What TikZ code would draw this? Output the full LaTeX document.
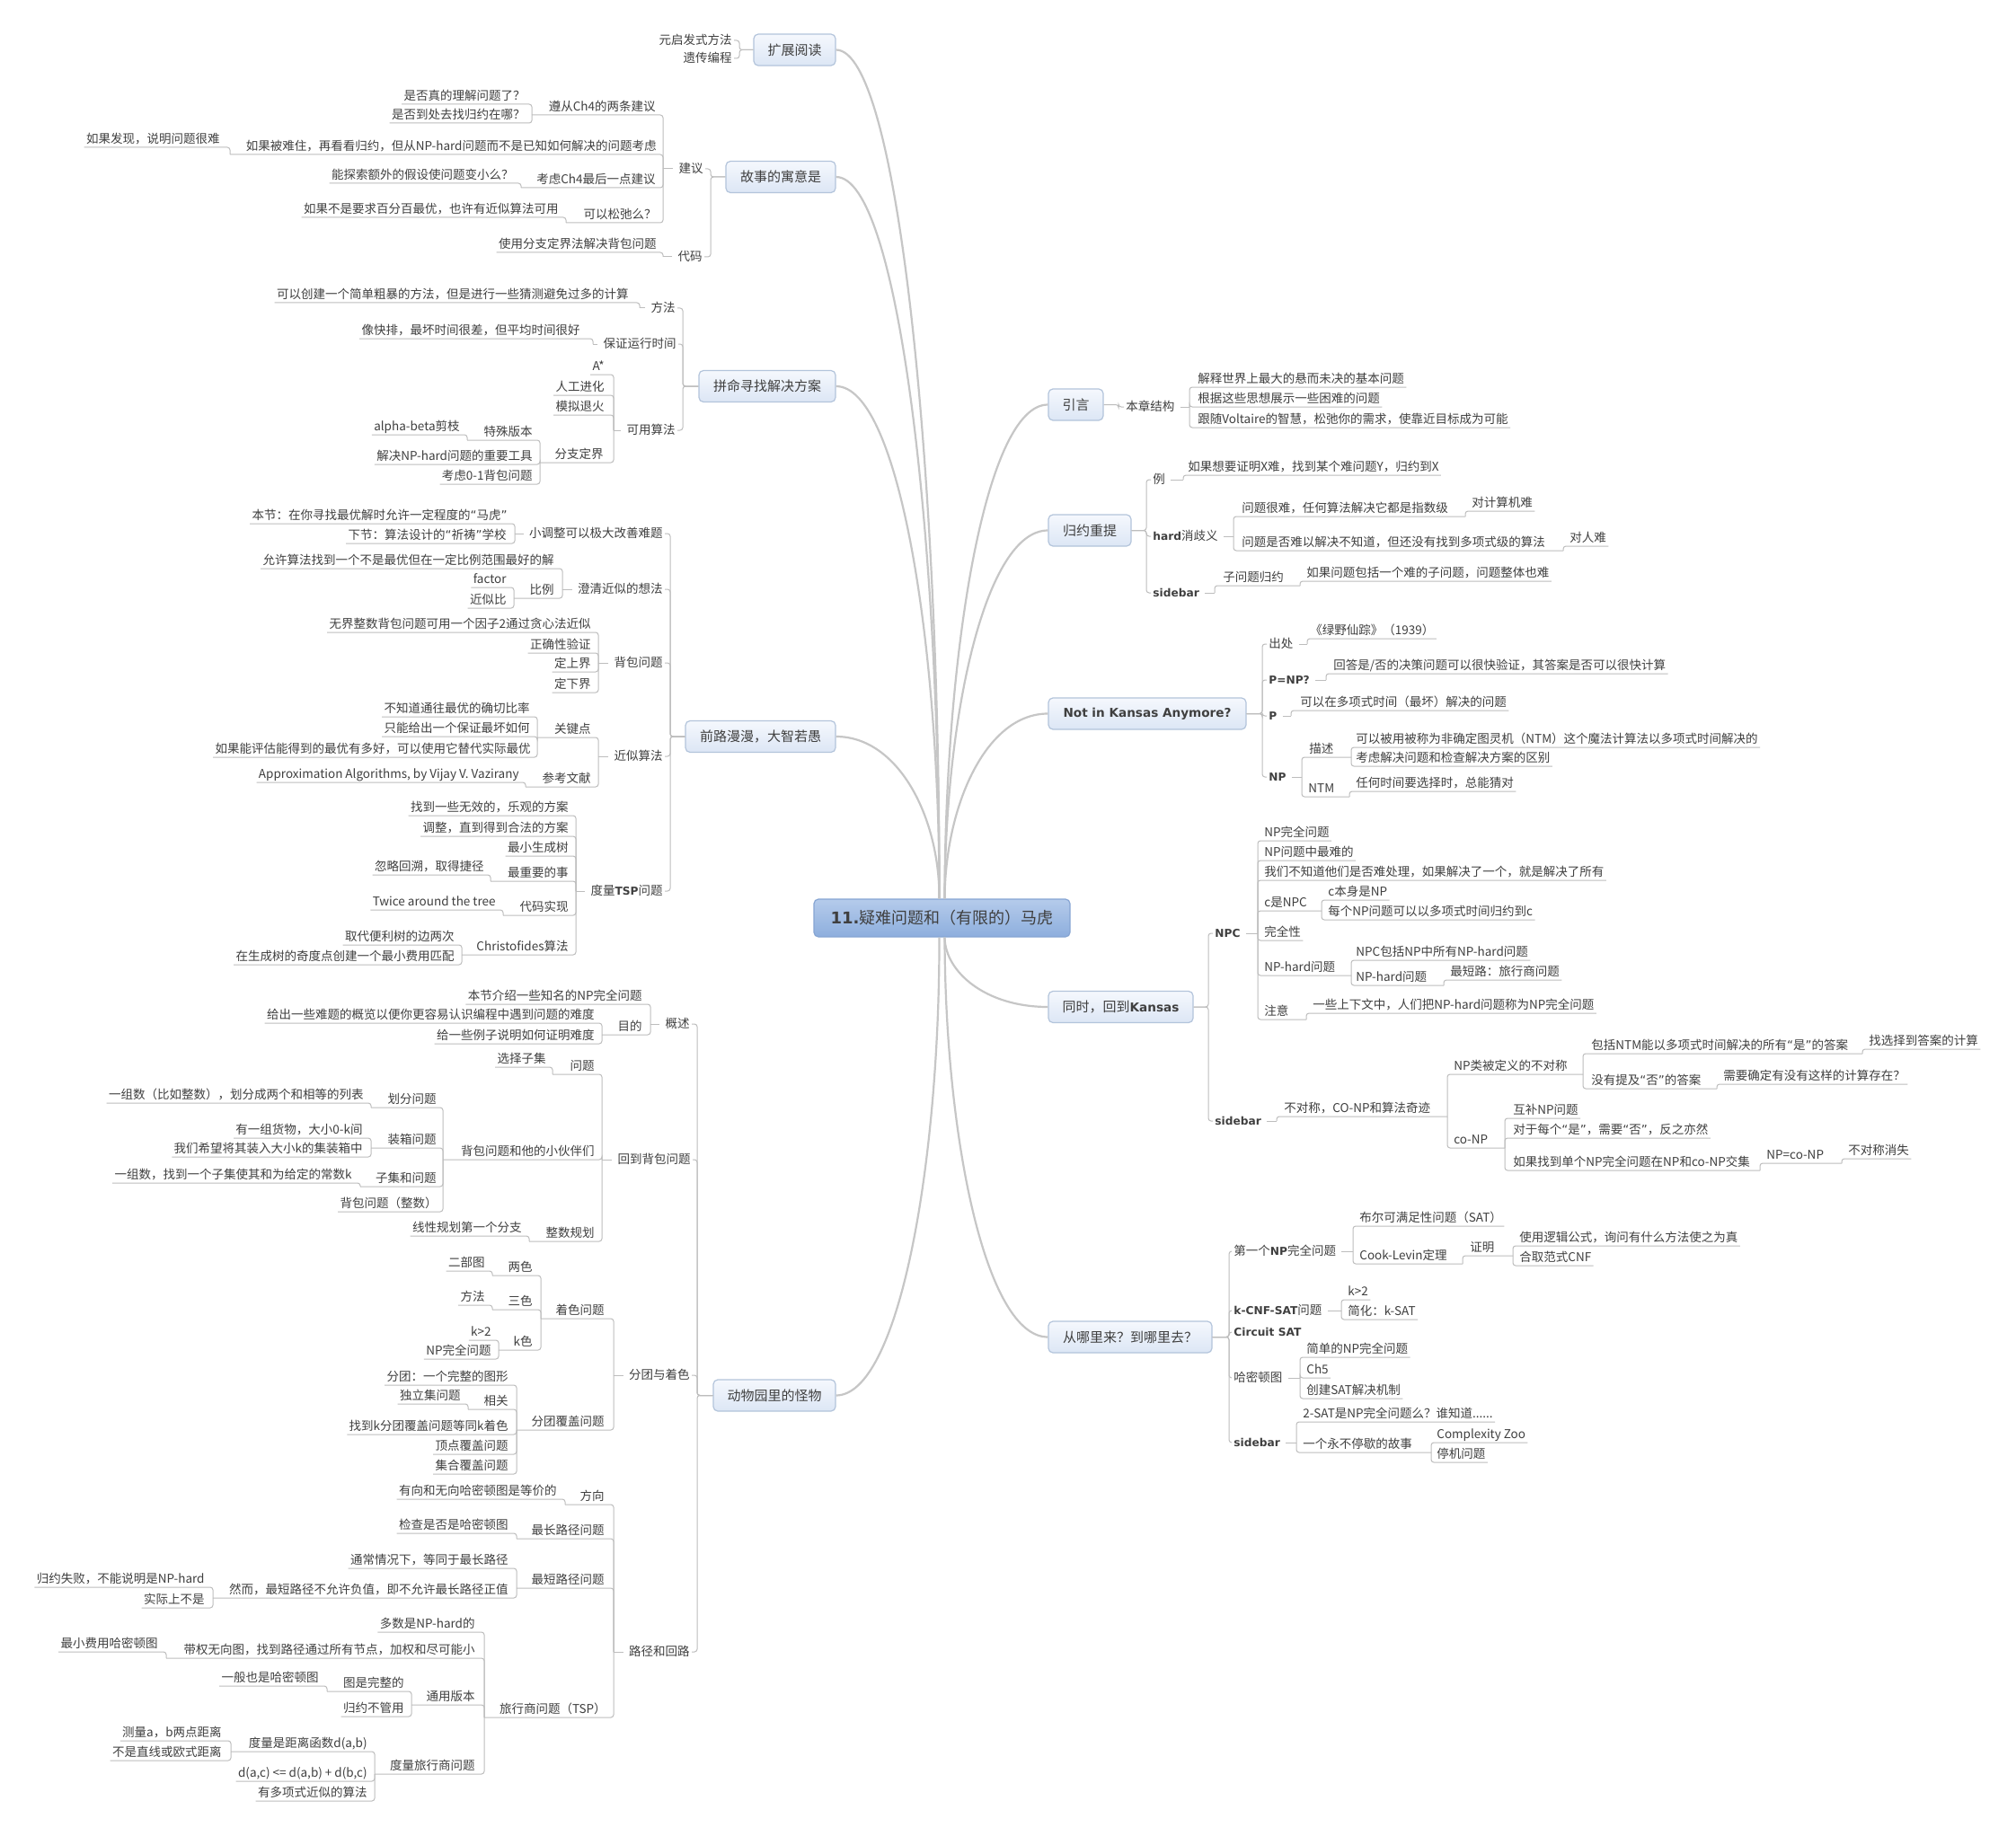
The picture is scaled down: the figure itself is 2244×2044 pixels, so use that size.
\documentclass[tikz,border=0pt]{standalone}
\usepackage{fontspec}
\setmainfont{Noto Sans CJK SC}
\newfontfamily\bl{DejaVu Sans}
\definecolor{txt}{HTML}{3F3F3F}
\definecolor{lc}{HTML}{BDBDBD}
\definecolor{brc}{HTML}{C6C6C6}
\definecolor{bxd}{HTML}{B3C4DB}
\definecolor{bxt}{HTML}{F5F8FD}
\definecolor{bxb}{HTML}{DCE6F5}
\definecolor{rtd}{HTML}{86A5D3}
\definecolor{rtt}{HTML}{B5CBEB}
\definecolor{rtb}{HTML}{8DAEDD}
\newcommand\sfz{\fontsize{6.75pt}{8pt}\selectfont}
\newcommand\mfz{\fontsize{7.5pt}{9pt}\selectfont}
\newcommand\Bo[1]{{\bl\bfseries\fontsize{6.1pt}{7pt}\selectfont #1}}
\newcommand\Bm[1]{{\bl\bfseries\fontsize{6.8pt}{8pt}\selectfont #1}}
\newcommand\qo{{\bl “}}
\newcommand\qc{{\bl ”}}
\newcommand\LN[4]{\node[tx,anchor=south east] (#1) at ({#2+2},{#3}) {#4};}
\newcommand\RN[4]{\node[tx,anchor=south west] (#1) at ({#2-2},{#3}) {#4};}
\newcommand\LT[4]{\node[tx,anchor=east] (#1) at ({#2+2},{#3}) {#4};}
\newcommand\RT[4]{\node[tx,anchor=west] (#1) at ({#2-2},{#3}) {#4};}
\newcommand\BR[3]{\coordinate (#1) at (#2,#3);}
\newcommand\eL[2]{\draw[ln] (#1) |- (#2.south west);}
\newcommand\eR[2]{\draw[ln] (#1) |- (#2.south east);}
\newcommand\eB[2]{\draw[ln] (#1) |- (#2);}
\newcommand\sL[2]{\draw[ln] ([xshift=-2pt]#1.west) -- (#2);}
\newcommand\sR[2]{\draw[ln] ([xshift=2pt]#1.east) -- (#2);}
\newcommand\mL[3]{\draw[ln] (#1.west) -- (#2) |- (#3.east);}
\newcommand\mR[3]{\draw[ln] (#1.east) -- (#2) |- (#3.west);}
\tikzset{
  tx/.style={font=\sfz, text=txt, inner xsep=1pt, inner ysep=0.8pt, text height=5.6pt, text depth=1.2pt},
  ln/.style={draw=lc, line width=0.5pt, rounded corners=1.5pt},
  branch/.style={draw=brc, line width=1.1pt},
  mainbox/.style={draw=bxd, line width=0.6pt, rounded corners=2.5pt, top color=bxt, bottom color=bxb, font=\mfz, text=txt, inner sep=0pt, minimum height=17.5pt},
  rootbox/.style={draw=rtd, line width=0.6pt, rounded corners=2.5pt, top color=rtt, bottom color=rtb, font=\fontsize{9pt}{11pt}\selectfont, text=txt, inner sep=0pt, minimum height=21pt, minimum width=142.5pt}
}
\begin{document}
\begin{tikzpicture}[x=0.5pt,y=-0.5pt]
\fill[white] (0,0) rectangle (2244,2044);
\useasboundingbox (0,0) rectangle (2244,2044);

% ---------- root and main topics
\node[rootbox] (root) at (1048.5,1022) {{\bl\bfseries 11.}疑难问题和（有限的）马虎};
\node[mainbox, minimum width=45.5pt] (m1) at (884.5,55.5) {扩展阅读};
\node[mainbox, minimum width=61pt] (m2) at (869,197) {故事的寓意是};
\node[mainbox, minimum width=76pt] (m3) at (854,430) {拼命寻找解决方案};
\node[mainbox, minimum width=83.5pt] (m4) at (846.5,820) {前路漫漫，大智若愚};
\node[mainbox, minimum width=68pt] (m5) at (862,1553.5) {动物园里的怪物};
\node[mainbox, minimum width=30.5pt] (r1) at (1197.5,450.5) {引言};
\node[mainbox, minimum width=46pt] (r2) at (1213,590.5) {归约重提};
\node[mainbox, minimum width=110pt] (r3) at (1277,794.5) {\Bm{Not in Kansas Anymore?}};
\node[mainbox, minimum width=80.5pt] (r4) at (1247.5,1121) {同时，回到\Bm{Kansas}};
\node[mainbox, minimum width=91pt] (r5) at (1258,1488.5) {从哪里来？到哪里去？};

% ---------- main branches
\draw[branch] ([xshift=-1.5pt]root.north) .. controls (1046,528) and (1000,55.5) .. (m1.east);
\draw[branch] ([xshift=-1.5pt]root.north) .. controls (1046,599) and (1000,197) .. (m2.east);
\draw[branch] ([xshift=-1.5pt]root.north) .. controls (1046,715) and (1000,430) .. (m3.east);
\draw[branch] ([xshift=-1.5pt]root.north) .. controls (1046,910) and (1000,820) .. (m4.east);
\draw[branch] ([xshift=-1.5pt]root.south) .. controls (1046,1298) and (1000,1553.5) .. (m5.east);
\draw[branch] ([xshift=1.5pt]root.north) .. controls (1052,726) and (1097,450.5) .. (r1.west);
\draw[branch] ([xshift=1.5pt]root.north) .. controls (1052,796) and (1097,590.5) .. (r2.west);
\draw[branch] ([xshift=1.5pt]root.north) .. controls (1052,898) and (1097,794.5) .. (r3.west);
\draw[branch] ([xshift=1.5pt]root.south) .. controls (1052,1082) and (1097,1121) .. (r4.west);
\draw[branch] ([xshift=1.5pt]root.south) .. controls (1052,1266) and (1097,1488.5) .. (r5.west);

% ================= m1 扩展阅读
\LT{z1}{815}{45}{元启发式方法}
\LT{z2}{815}{65}{遗传编程}
\BR{m1b}{823}{55.5}
\mL{m1}{m1b}{z1} \mL{m1}{m1b}{z2}

% ================= m2 故事的寓意是
\LT{a1}{783}{188}{建议}
\LT{a2}{782}{286}{代码}
\BR{m2b}{791}{197}
\mL{m2}{m2b}{a1} \mL{m2}{m2b}{a2}
\BR{a1b}{738}{188} \sL{a1}{a1b}
\BR{a2b}{738}{286} \sL{a2}{a2b}
\LN{a11}{730}{128}{遵从Ch4的两条建议} \BR{a11b}{592}{128}
\LN{a111}{585}{116}{是否真的理解问题了？}
\LN{a112}{585}{137}{是否到处去找归约在哪？}
\LN{a12}{731}{172}{如果被难住，再看看归约，但从NP-hard问题而不是已知如何解决的问题考虑} \BR{a12b}{256}{172}
\LN{a121}{245}{164}{如果发现，说明问题很难}
\LN{a13}{730}{209}{考虑Ch4最后一点建议} \BR{a13b}{580}{209}
\LN{a131}{572}{204}{能探索额外的假设使问题变小么？}
\LN{a14}{731}{248}{可以松弛么？} \BR{a14b}{630}{248}
\LN{a141}{622}{242}{如果不是要求百分百最优，也许有近似算法可用}
\LN{a21}{731}{281}{使用分支定界法解决背包问题}
\eB{a1b}{a11b} \eL{a11b}{a111} \eL{a11b}{a112}
\eB{a1b}{a12b} \eL{a12b}{a121}
\eB{a1b}{a13b} \eL{a13b}{a131}
\eB{a1b}{a14b} \eL{a14b}{a141}
\eL{a2b}{a21}

% ================= m3 拼命寻找解决方案
\LT{b1}{752}{343}{方法}
\LT{b2}{753}{383}{保证运行时间}
\LT{b3}{752}{479}{可用算法}
\BR{m3b}{760}{430}
\mL{m3}{m3b}{b1} \mL{m3}{m3b}{b2} \mL{m3}{m3b}{b3}
\BR{b1b}{712}{343} \sL{b1}{b1b}
\BR{b2b}{660}{383} \sL{b2}{b2b}
\BR{b3b}{683}{479} \sL{b3}{b3b}
\LN{b11}{700}{337}{可以创建一个简单粗暴的方法，但是进行一些猜测避免过多的计算}
\LN{b21}{646}{377}{像快排，最坏时间很差，但平均时间很好}
\LN{b31}{673}{417}{A*}
\LN{b32}{673}{440}{人工进化}
\LN{b33}{673}{462}{模拟退火}
\LN{b34}{672}{515}{分支定界} \BR{b34b}{601}{515}
\LN{b341}{593}{490}{特殊版本} \BR{b341b}{520}{490}
\LN{b3411}{512}{484}{alpha-beta剪枝}
\LN{b342}{593}{517}{解决NP-hard问题的重要工具}
\LN{b343}{593}{539}{考虑0-1背包问题}
\eL{b1b}{b11} \eL{b2b}{b21}
\eL{b3b}{b31} \eL{b3b}{b32} \eL{b3b}{b33} \eB{b3b}{b34b}
\eB{b34b}{b341b} \eL{b341b}{b3411} \eL{b34b}{b342} \eL{b34b}{b343}

% ================= m4 前路漫漫，大智若愚
\LT{c1}{738}{594}{小调整可以极大改善难题}
\LT{c2}{738}{656}{澄清近似的想法}
\LT{c3}{738}{738}{背包问题}
\LT{c4}{738}{842}{近似算法}
\LT{c5}{738}{992}{度量\Bo{TSP}问题}
\BR{m4b}{746}{820}
\mL{m4}{m4b}{c1} \mL{m4}{m4b}{c2} \mL{m4}{m4b}{c3} \mL{m4}{m4b}{c4} \mL{m4}{m4b}{c5}
\BR{c1b}{573}{594} \sL{c1}{c1b}
\BR{c2b}{626}{656} \sL{c2}{c2b}
\BR{c3b}{666}{738} \sL{c3}{c3b}
\BR{c4b}{666}{842} \sL{c4}{c4b}
\BR{c5b}{641}{992} \sL{c5}{c5b}
\LN{c11}{565}{583}{本节：在你寻找最优解时允许一定程度的\qo{}马虎\qc{}}
\LN{c12}{564}{605}{下节：算法设计的\qo{}祈祷\qc{}学校}
\LN{c21}{617}{633}{允许算法找到一个不是最优但在一定比例范围最好的解}
\LN{c22}{617}{666}{比例} \BR{c22b}{572}{666}
\LN{c221}{564}{654}{factor}
\LN{c222}{564}{677}{近似比}
\LN{c31}{658}{704}{无界整数背包问题可用一个因子2通过贪心法近似}
\LN{c32}{658}{727}{正确性验证}
\LN{c33}{658}{748}{定上界}
\LN{c34}{658}{771}{定下界}
\LN{c41}{658}{821}{关键点} \BR{c41b}{598}{821}
\LN{c411}{590}{798}{不知道通往最优的确切比率}
\LN{c412}{590}{820}{只能给出一个保证最坏如何}
\LN{c413}{591}{843}{如果能评估能得到的最优有多好，可以使用它替代实际最优}
\LN{c42}{658}{876}{参考文献} \BR{c42b}{585}{876}
\LN{c421}{578}{871}{Approximation Algorithms, by Vijay V. Vazirany}
\LN{c51}{633}{908}{找到一些无效的，乐观的方案}
\LN{c52}{633}{931}{调整，直到得到合法的方案}
\LN{c53}{633}{953}{最小生成树}
\LN{c54}{633}{981}{最重要的事} \BR{c54b}{546}{981}
\LN{c541}{539}{974}{忽略回溯，取得捷径}
\LN{c55}{633}{1019}{代码实现} \BR{c55b}{560}{1019}
\LN{c551}{552}{1013}{Twice around the tree}
\LN{c56}{633}{1063}{Christofides算法} \BR{c56b}{514}{1063}
\LN{c561}{506}{1052}{取代便利树的边两次}
\LN{c562}{506}{1074}{在生成树的奇度点创建一个最小费用匹配}
\eL{c1b}{c11} \eL{c1b}{c12}
\eL{c2b}{c21} \eB{c2b}{c22b} \eL{c22b}{c221} \eL{c22b}{c222}
\eL{c3b}{c31} \eL{c3b}{c32} \eL{c3b}{c33} \eL{c3b}{c34}
\eB{c4b}{c41b} \eL{c41b}{c411} \eL{c41b}{c412} \eL{c41b}{c413}
\eB{c4b}{c42b} \eL{c42b}{c421}
\eL{c5b}{c51} \eL{c5b}{c52} \eL{c5b}{c53}
\eB{c5b}{c54b} \eL{c54b}{c541}
\eB{c5b}{c55b} \eL{c55b}{c551}
\eB{c5b}{c56b} \eL{c56b}{c561} \eL{c56b}{c562}

% ================= m5 动物园里的怪物
\LT{d1}{768}{1140}{概述}
\LT{d2}{769}{1291}{回到背包问题}
\LT{d3}{768}{1531}{分团与着色}
\LT{d4}{768}{1839}{路径和回路}
\BR{m5b}{776}{1553.5}
\mL{m5}{m5b}{d1} \mL{m5}{m5b}{d2} \mL{m5}{m5b}{d3} \mL{m5}{m5b}{d4}
\BR{d1b}{724}{1140} \sL{d1}{d1b}
\BR{d2b}{670}{1291} \sL{d2}{d2b}
\BR{d3b}{683}{1531} \sL{d3}{d3b}
\BR{d4b}{683}{1839} \sL{d4}{d4b}
\LN{d11}{715}{1118}{本节介绍一些知名的NP完全问题}
\LN{d12}{715}{1152}{目的} \BR{d12b}{670}{1152}
\LN{d121}{662}{1139}{给出一些难题的概览以便你更容易认识编程中遇到问题的难度}
\LN{d122}{662}{1162}{给一些例子说明如何证明难度}
\LN{d21}{662}{1196}{问题} \BR{d21b}{615}{1196}
\LN{d211}{608}{1188}{选择子集}
\LN{d22}{662}{1291}{背包问题和他的小伙伴们} \BR{d22b}{493}{1291}
\LN{d221}{486}{1233}{划分问题} \BR{d221b}{413}{1233}
\LN{d2211}{405}{1228}{一组数（比如整数），划分成两个和相等的列表}
\LN{d222}{486}{1278}{装箱问题} \BR{d222b}{413}{1278}
\LN{d2221}{404}{1267}{有一组货物，大小0-k间}
\LN{d2222}{404}{1288}{我们希望将其装入大小k的集装箱中}
\LN{d223}{486}{1321}{子集和问题} \BR{d223b}{401}{1321}
\LN{d2231}{392}{1317}{一组数，找到一个子集使其和为给定的常数k}
\LN{d224}{487}{1349}{背包问题（整数）}
\LN{d23}{662}{1382}{整数规划} \BR{d23b}{589}{1382}
\LN{d231}{581}{1376}{线性规划第一个分支}
\LN{d31}{673}{1468}{着色问题} \BR{d31b}{602}{1468}
\LN{d311}{593}{1420}{两色} \BR{d311b}{548}{1420}
\LN{d3111}{540}{1415}{二部图}
\LN{d312}{593}{1458}{三色} \BR{d312b}{548}{1458}
\LN{d3121}{540}{1453}{方法}
\LN{d313}{593}{1503}{k色} \BR{d313b}{555}{1503}
\LN{d3131}{547}{1492}{k>2}
\LN{d3132}{547}{1513}{NP完全问题}
\LN{d32}{673}{1592}{分团覆盖问题} \BR{d32b}{575}{1592}
\LN{d321}{566}{1542}{分团：一个完整的图形}
\LN{d322}{566}{1569}{相关} \BR{d322b}{521}{1569}
\LN{d3221}{513}{1563}{独立集问题}
\LN{d323}{566}{1597}{找到k分团覆盖问题等同k着色}
\LN{d324}{566}{1619}{顶点覆盖问题}
\LN{d325}{566}{1641}{集合覆盖问题}
\LN{d41}{673}{1675}{方向} \BR{d41b}{629}{1675}
\LN{d411}{620}{1669}{有向和无向哈密顿图是等价的}
\LN{d42}{673}{1713}{最长路径问题} \BR{d42b}{575}{1713}
\LN{d421}{566}{1707}{检查是否是哈密顿图}
\LN{d43}{673}{1768}{最短路径问题} \BR{d43b}{575}{1768}
\LN{d431}{566}{1746}{通常情况下，等同于最长路径}
\LN{d432}{566}{1779}{然而，最短路径不允许负值，即不允许最长路径正值} \BR{d432b}{237}{1779}
\LN{d4321}{228}{1767}{归约失败，不能说明是NP-hard}
\LN{d4322}{228}{1790}{实际上不是}
\LN{d44}{675}{1912}{旅行商问题（TSP）} \BR{d44b}{539}{1912}
\LN{d441}{529}{1817}{多数是NP-hard的}
\LN{d442}{529}{1846}{带权无向图，找到路径通过所有节点，加权和尽可能小} \BR{d442b}{185}{1846}
\LN{d4421}{176}{1839}{最小费用哈密顿图}
\LN{d443}{529}{1898}{通用版本} \BR{d443b}{458}{1898}
\LN{d4431}{450}{1883}{图是完整的} \BR{d4431b}{364}{1883}
\LN{d44311}{355}{1877}{一般也是哈密顿图}
\LN{d4432}{450}{1911}{归约不管用}
\LN{d444}{529}{1975}{度量旅行商问题} \BR{d444b}{417}{1975}
\LN{d4441}{409}{1950}{度量是距离函数d(a,b)} \BR{d4441b}{257}{1950}
\LN{d44411}{247}{1938}{测量a，b两点距离}
\LN{d44412}{247}{1960}{不是直线或欧式距离}
\LN{d4442}{409}{1983}{d(a,c) <= d(a,b) + d(b,c)}
\LN{d4443}{409}{2005}{有多项式近似的算法}
\eL{d1b}{d11} \eB{d1b}{d12b} \eL{d12b}{d121} \eL{d12b}{d122}
\eB{d2b}{d21b} \eL{d21b}{d211}
\eB{d2b}{d22b}
\eB{d22b}{d221b} \eL{d221b}{d2211}
\eB{d22b}{d222b} \eL{d222b}{d2221} \eL{d222b}{d2222}
\eB{d22b}{d223b} \eL{d223b}{d2231}
\eL{d22b}{d224}
\eB{d2b}{d23b} \eL{d23b}{d231}
\eB{d3b}{d31b}
\eB{d31b}{d311b} \eL{d311b}{d3111}
\eB{d31b}{d312b} \eL{d312b}{d3121}
\eB{d31b}{d313b} \eL{d313b}{d3131} \eL{d313b}{d3132}
\eB{d3b}{d32b}
\eL{d32b}{d321} \eB{d32b}{d322b} \eL{d322b}{d3221}
\eL{d32b}{d323} \eL{d32b}{d324} \eL{d32b}{d325}
\eB{d4b}{d41b} \eL{d41b}{d411}
\eB{d4b}{d42b} \eL{d42b}{d421}
\eB{d4b}{d43b} \eL{d43b}{d431} \eB{d43b}{d432b} \eL{d432b}{d4321} \eL{d432b}{d4322}
\eB{d4b}{d44b} \eL{d44b}{d441}
\eB{d44b}{d442b} \eL{d442b}{d4421}
\eB{d44b}{d443b} \eB{d443b}{d4431b} \eL{d4431b}{d44311} \eL{d443b}{d4432}
\eB{d44b}{d444b} \eB{d444b}{d4441b} \eL{d4441b}{d44411} \eL{d4441b}{d44412}
\eL{d444b}{d4442} \eL{d444b}{d4443}

% ================= r1 引言
\RT{e1}{1253}{453}{本章结构}
\BR{r1b}{1245}{450.5}
\mR{r1}{r1b}{e1}
\BR{e1b}{1324}{453} \sR{e1}{e1b}
\RN{e11}{1333}{431}{解释世界上最大的悬而未决的基本问题}
\RN{e12}{1333}{453}{根据这些思想展示一些困难的问题}
\RN{e13}{1333}{476}{跟随Voltaire的智慧，松弛你的需求，使靠近目标成为可能}
\eR{e1b}{e11} \eR{e1b}{e12} \eR{e1b}{e13}

% ================= r2 归约重提
\RT{f1}{1283}{534}{例}
\RT{f2}{1283}{597}{\Bo{hard}消歧义}
\RT{f3}{1283}{660}{\Bo{sidebar}}
\BR{r2b}{1276}{590.5}
\mR{r2}{r2b}{f1} \mR{r2}{r2b}{f2} \mR{r2}{r2b}{f3}
\BR{f1b}{1317}{534} \sR{f1}{f1b}
\BR{f2b}{1373}{597} \sR{f2}{f2b}
\BR{f3b}{1352}{660} \sR{f3}{f3b}
\RN{f11}{1322}{529}{如果想要证明X难，找到某个难问题Y，归约到X}
\RN{f21}{1382}{575}{问题很难，任何算法解决它都是指数级} \BR{f21b}{1631}{575}
\RN{f211}{1638}{569}{对计算机难}
\RN{f22}{1382}{613}{问题是否难以解决不知道，但还没有找到多项式级的算法} \BR{f22b}{1740}{613}
\RN{f221}{1747}{608}{对人难}
\RN{f31}{1361}{652}{子问题归约} \BR{f31b}{1447}{652}
\RN{f311}{1454}{647}{如果问题包括一个难的子问题，问题整体也难}
\eR{f1b}{f11}
\eB{f2b}{f21b} \eR{f21b}{f211}
\eB{f2b}{f22b} \eR{f22b}{f221}
\eB{f3b}{f31b} \eR{f31b}{f311}

% ================= r3 Not in Kansas Anymore?
\RT{g1}{1412}{717}{出处}
\RT{g2}{1412}{757}{\Bo{P=NP?}}
\RT{g3}{1412}{797}{\Bo{P}}
\RT{g4}{1412}{865}{\Bo{NP}}
\BR{r3b}{1405}{794.5}
\mR{r3}{r3b}{g1} \mR{r3}{r3b}{g2} \mR{r3}{r3b}{g3} \mR{r3}{r3b}{g4}
\BR{g1b}{1455}{717} \sR{g1}{g1b}
\BR{g2b}{1476}{757} \sR{g2}{g2b}
\BR{g3b}{1437}{797} \sR{g3}{g3b}
\BR{g4b}{1449}{865} \sR{g4}{g4b}
\RN{g11}{1458}{711}{《绿野仙踪》（1939）}
\RN{g21}{1484}{750}{回答是/否的决策问题可以很快验证，其答案是否可以很快计算}
\RN{g31}{1447}{791}{可以在多项式时间（最坏）解决的问题}
\RN{g41}{1457}{843}{描述} \BR{g41b}{1504}{843}
\RN{g411}{1509}{832}{可以被用被称为非确定图灵机（NTM）这个魔法计算法以多项式时间解决的}
\RN{g412}{1509}{853}{考虑解决问题和检查解决方案的区别}
\RN{g42}{1456}{887}{NTM} \BR{g42b}{1502}{887}
\RN{g421}{1509}{881}{任何时间要选择时，总能猜对}
\eR{g1b}{g11} \eR{g2b}{g21} \eR{g3b}{g31}
\eB{g4b}{g41b} \eR{g41b}{g411} \eR{g41b}{g412}
\eB{g4b}{g42b} \eR{g42b}{g421}

% ================= r4 同时，回到Kansas
\RT{h1}{1352}{1039}{\Bo{NPC}}
\RT{h2}{1352}{1248}{\Bo{sidebar}}
\BR{r4b}{1345}{1121}
\mR{r4}{r4b}{h1} \mR{r4}{r4b}{h2}
\BR{h1b}{1400}{1039} \sR{h1}{h1b}
\BR{h2b}{1421}{1248} \sR{h2}{h2b}
\RN{h11}{1407}{936}{NP完全问题}
\RN{h12}{1407}{958}{NP问题中最难的}
\RN{h13}{1407}{980}{我们不知道他们是否难处理，如果解决了一个，就是解决了所有}
\RN{h14}{1407}{1014}{c是NPC} \BR{h14b}{1471}{1014}
\RN{h141}{1478}{1002}{c本身是NP}
\RN{h142}{1478}{1024}{每个NP问题可以以多项式时间归约到c}
\RN{h15}{1407}{1047}{完全性}
\RN{h16}{1407}{1086}{NP-hard问题} \BR{h16b}{1504}{1086}
\RN{h161}{1509}{1069}{NPC包括NP中所有NP-hard问题}
\RN{h162}{1509}{1097}{NP-hard问题} \BR{h162b}{1607}{1097}
\RN{h1621}{1614}{1091}{最短路：旅行商问题}
\RN{h17}{1407}{1135}{注意} \BR{h17b}{1454}{1135}
\RN{h171}{1461}{1128}{一些上下文中，人们把NP-hard问题称为NP完全问题}
\RN{h21}{1429}{1243}{不对称，CO-NP和算法奇迹} \BR{h21b}{1611}{1243}
\RN{h211}{1618}{1196}{NP类被定义的不对称} \BR{h211b}{1762}{1196}
\RN{h2111}{1771}{1173}{包括NTM能以多项式时间解决的所有\qo{}是\qc{}的答案} \BR{h2111b}{2073}{1173}
\RN{h21111}{2080}{1168}{找选择到答案的计算}
\RN{h2112}{1771}{1212}{没有提及\qo{}否\qc{}的答案} \BR{h2112b}{1911}{1212}
\RN{h21121}{1918}{1207}{需要确定有没有这样的计算存在？}
\RN{h212}{1618}{1278}{co-NP} \BR{h212b}{1675}{1278}
\RN{h2121}{1684}{1245}{互补NP问题}
\RN{h2122}{1684}{1267}{对于每个\qo{}是\qc{}，需要\qo{}否\qc{}，反之亦然}
\RN{h2123}{1684}{1303}{如果找到单个NP完全问题在NP和co-NP交集} \BR{h2123b}{1959}{1303}
\RN{h21231}{1966}{1295}{NP=co-NP} \BR{h21231b}{2050}{1295}
\RN{h212311}{2057}{1290}{不对称消失}
\eR{h1b}{h11} \eR{h1b}{h12} \eR{h1b}{h13}
\eB{h1b}{h14b} \eR{h14b}{h141} \eR{h14b}{h142}
\eR{h1b}{h15}
\eB{h1b}{h16b} \eR{h16b}{h161} \eB{h16b}{h162b} \eR{h162b}{h1621}
\eB{h1b}{h17b} \eR{h17b}{h171}
\eB{h2b}{h21b}
\eB{h21b}{h211b} \eB{h211b}{h2111b} \eR{h2111b}{h21111}
\eB{h211b}{h2112b} \eR{h2112b}{h21121}
\eB{h21b}{h212b} \eR{h212b}{h2121} \eR{h212b}{h2122}
\eB{h212b}{h2123b} \eB{h2123b}{h21231b} \eR{h21231b}{h212311}

% ================= r5 从哪里来？到哪里去？
\RT{k1}{1373}{1393}{第一个\Bo{NP}完全问题}
\RT{k2}{1373}{1459}{\Bo{k-CNF-SAT}问题}
\RT{k3}{1373}{1483}{\Bo{Circuit SAT}}
\RT{k4}{1373}{1534}{哈密顿图}
\RT{k5}{1373}{1606}{\Bo{sidebar}}
\BR{r5b}{1368}{1488.5}
\mR{r5}{r5b}{k1} \mR{r5}{r5b}{k2} \mR{r5}{r5b}{k3} \mR{r5}{r5b}{k4} \mR{r5}{r5b}{k5}
\BR{k1b}{1506}{1393} \sR{k1}{k1b}
\BR{k2b}{1493}{1459} \sR{k2}{k2b}
\BR{k4b}{1447}{1534} \sR{k4}{k4b}
\BR{k5b}{1443}{1606} \sR{k5}{k5b}
\RN{k11}{1513}{1365}{布尔可满足性问题（SAT）}
\RN{k12}{1513}{1407}{Cook-Levin定理} \BR{k12b}{1628}{1407}
\RN{k121}{1636}{1398}{证明} \BR{k121b}{1684}{1398}
\RN{k1211}{1691}{1387}{使用逻辑公式，询问有什么方法使之为真}
\RN{k1212}{1691}{1409}{合取范式CNF}
\RN{k21}{1500}{1447}{k>2}
\RN{k22}{1500}{1469}{简化：k-SAT}
\RN{k41}{1454}{1511}{简单的NP完全问题}
\RN{k42}{1454}{1534}{Ch5}
\RN{k43}{1454}{1557}{创建SAT解决机制}
\RN{k51}{1450}{1583}{2-SAT是NP完全问题么？谁知道......}
\RN{k52}{1450}{1617}{一个永不停歇的故事} \BR{k52b}{1593}{1617}
\RN{k521}{1599}{1606}{Complexity Zoo}
\RN{k522}{1599}{1628}{停机问题}
\eR{k1b}{k11} \eB{k1b}{k12b} \eB{k12b}{k121b} \eR{k121b}{k1211} \eR{k121b}{k1212}
\eR{k2b}{k21} \eR{k2b}{k22}
\eR{k4b}{k41} \eR{k4b}{k42} \eR{k4b}{k43}
\eR{k5b}{k51} \eB{k5b}{k52b} \eR{k52b}{k521} \eR{k52b}{k522}
\end{tikzpicture}
\end{document}
